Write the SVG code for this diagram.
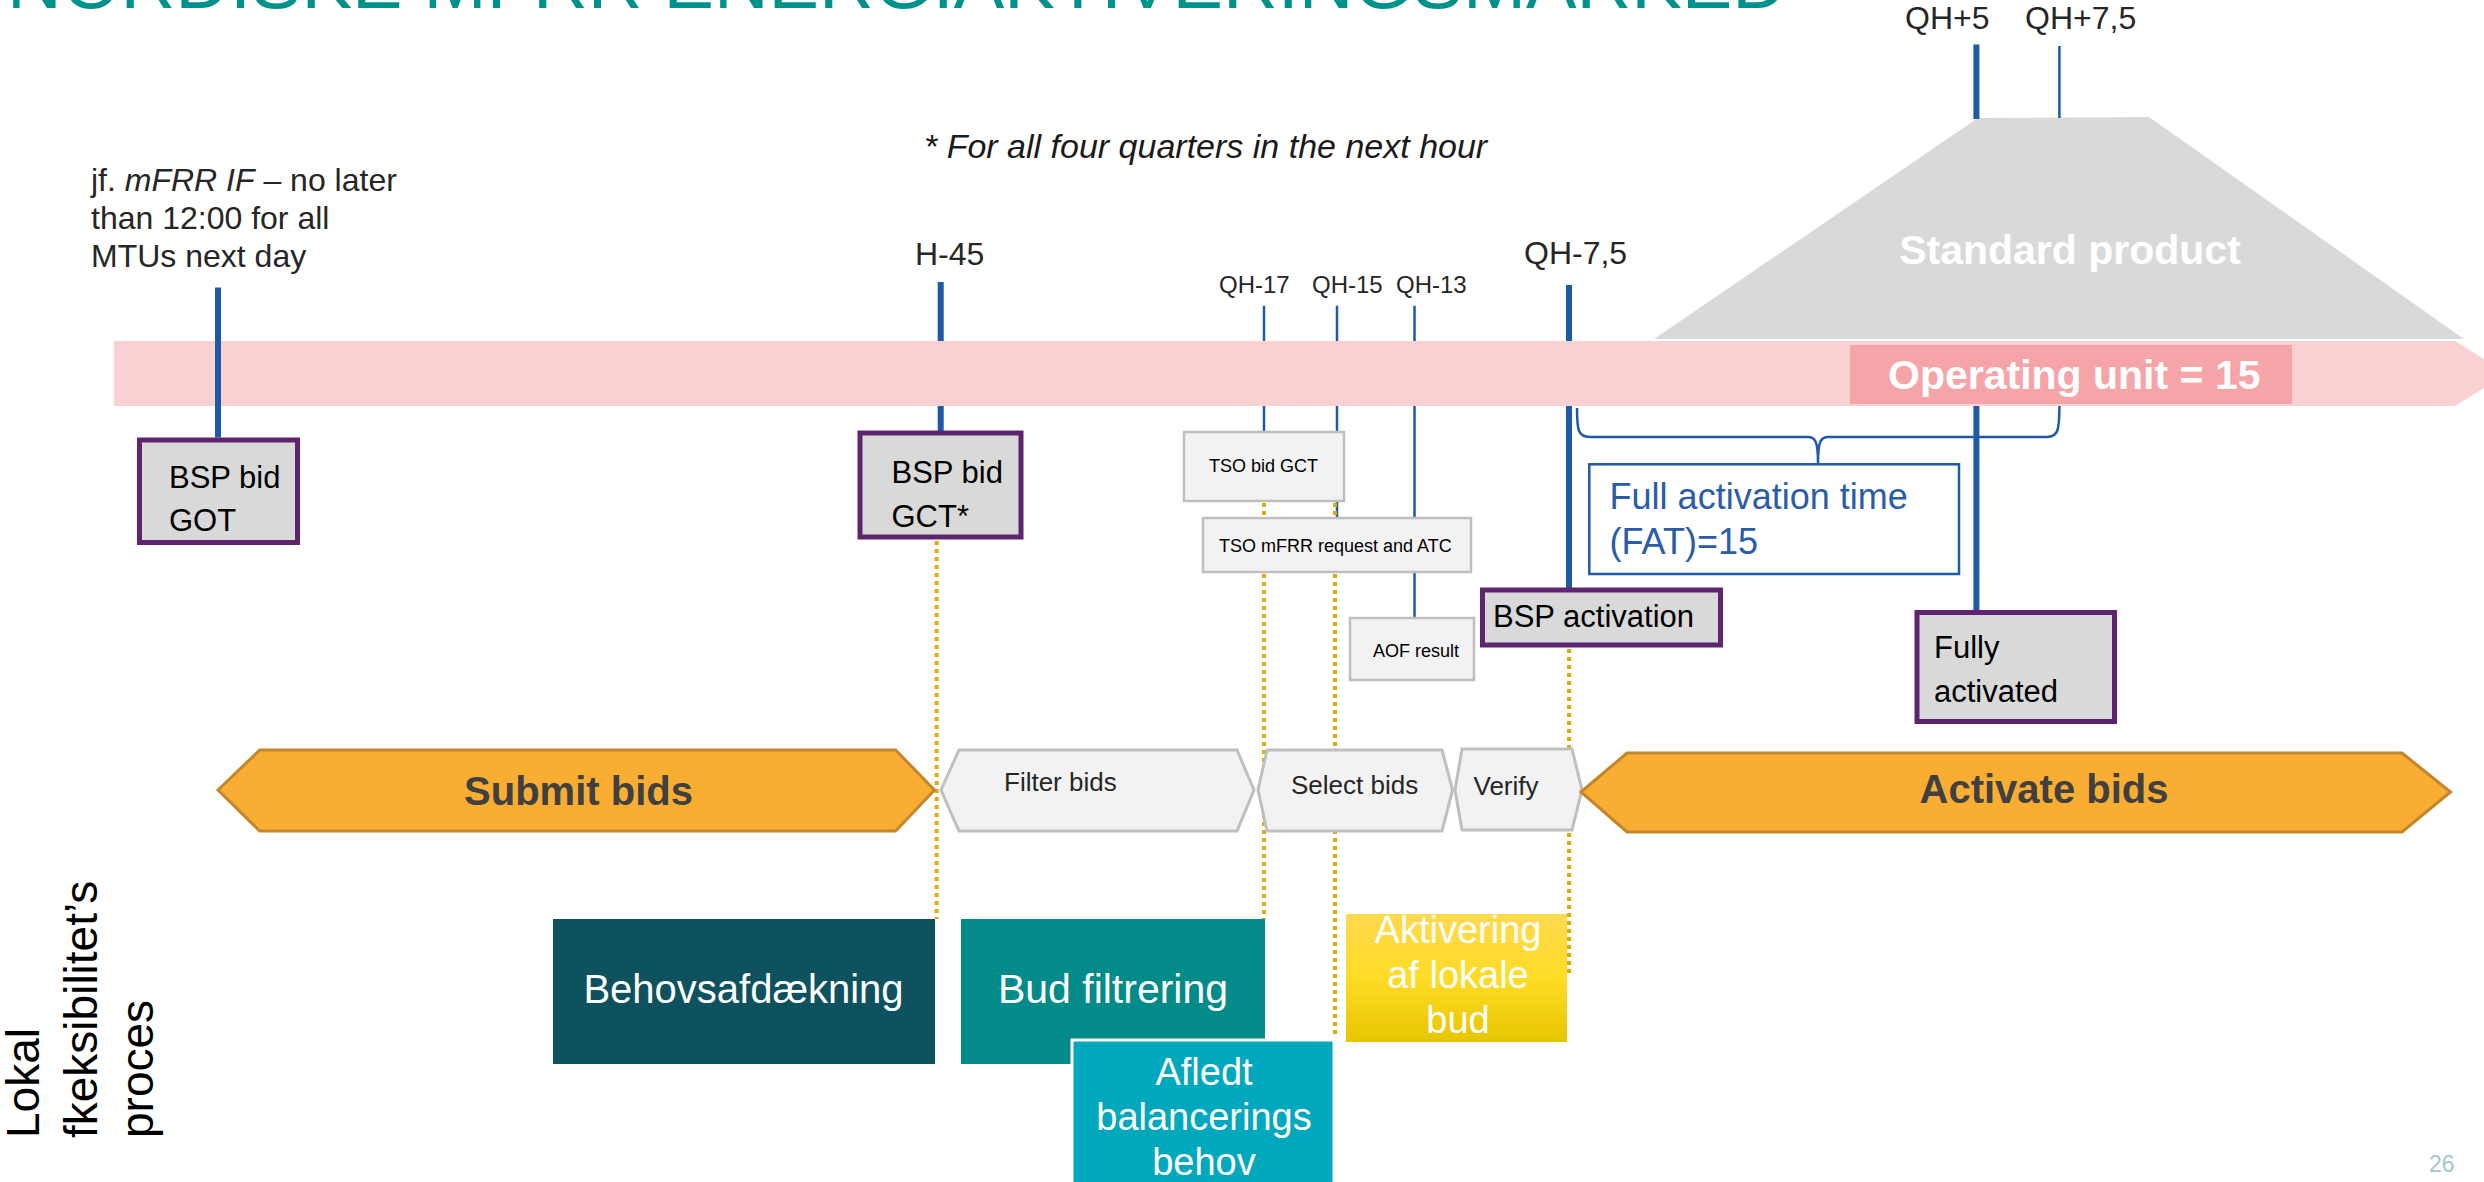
<svg xmlns="http://www.w3.org/2000/svg" width="2484" height="1182" viewBox="0 0 2484 1182">
<defs>
<linearGradient id="gy" x1="0" y1="0" x2="0" y2="1">
<stop offset="0" stop-color="#FFD94E"/><stop offset="0.5" stop-color="#FFDC25"/><stop offset="1" stop-color="#E6C500"/>
</linearGradient>
</defs>
<style>
text{font-family:"Liberation Sans",Arial,sans-serif}
.lbl{font-size:32px;fill:#262626}
.qh{font-size:24px;fill:#262626}
.thick{stroke:#1F5AA6;stroke-width:6;fill:none}
.thin{stroke:#1F5AA6;stroke-width:2.5;fill:none}
.dot{stroke:#DDAA0A;stroke-width:4;stroke-dasharray:4 4;fill:none}
.brace{stroke:#1F5AA6;stroke-width:2.5;fill:none}
.bsp{fill:#D9D9D9;stroke:#5F246E;stroke-width:5}
.bsptx{font-size:31px;fill:#000}
.tso{fill:#F2F2F2;stroke:#BFBFBF;stroke-width:2.5}
.tsotx{font-size:18px;fill:#000}
.step{fill:#F2F2F2;stroke:#BFBFBF;stroke-width:3}
.steptx{font-size:26px;fill:#262626}
.org{fill:#F9AE33;stroke:#C4862A;stroke-width:3}
.orgtx{font-size:40px;font-weight:bold;fill:#404040;text-anchor:middle}
.wtx{fill:#FFFFFF;text-anchor:middle}
</style>
<rect width="2484" height="1182" fill="#FFFFFF"/>

<g id="title">
<text x="7" y="8" font-size="76" fill="#00918A" textLength="1780" lengthAdjust="spacingAndGlyphs">NORDISKE MFRR ENERGIAKTIVERINGSMARKED</text>
</g>
<g id="note">
<text x="924" y="158" font-size="34" font-style="italic" fill="#1A1A1A">* For all four quarters in the next hour</text>
</g>
<g id="note-jf">
<text class="lbl" x="91" y="191">jf. <tspan font-style="italic">mFRR IF</tspan> – no later</text>
<text class="lbl" x="91" y="229">than 12:00 for all</text>
<text class="lbl" x="91" y="267">MTUs next day</text>
</g>
<g id="time-labels">
<text class="lbl" x="915" y="265">H-45</text>
<text class="lbl" x="1524" y="264">QH-7,5</text>
<text class="lbl" x="1905" y="29">QH+5</text>
<text class="lbl" x="2025" y="29">QH+7,5</text>
<text class="qh" x="1219" y="293">QH-17</text>
<text class="qh" x="1312" y="293">QH-15</text>
<text class="qh" x="1396" y="293">QH-13</text>
</g>

<g id="timeline">
<path d="M114,341 H2455 L2507,373.5 L2455,406 H114 Z" fill="#F9D1D3"/>
<rect x="1850" y="345" width="442" height="59" fill="#F5A4A7"/>
<text x="1888" y="389" font-size="41" font-weight="bold" fill="#FFFFFF">Operating unit = 15</text>
</g>
<g id="standard-product">
<path d="M1978,118 L2149,117 L2464,339 L1654,339 Z" fill="#D9D9D9"/>
<text class="wtx" x="2070" y="264" font-size="41" font-weight="bold">Standard product</text>
</g>

<g id="connectors">
<path class="thick" d="M218,287.5 V437.5"/>
<path class="thick" d="M940.7,282 V341 M940.7,406 V433"/>
<path class="thick" d="M1569,285 V341 M1569,406 V590"/>
<path class="thick" d="M1976.4,44.6 V119 M1976.4,406 V612"/>
<path class="thin" d="M1264,305.7 V341 M1264,406 V432"/>
<path class="thin" d="M1337,305.7 V341 M1337,406 V432 M1337,501 V518"/>
<path class="thin" d="M1414.5,305.7 V341 M1414.5,406 V618"/>
<path class="thin" d="M2059.4,46 V118"/>
<path class="dot" d="M936.7,541 V919"/>
<path class="dot" d="M1264,503 V518 M1264,574 V919"/>
<path class="dot" d="M1335,503 V518 M1335,574 V1037"/>
<path class="dot" d="M1569,649 V977"/>
<path class="brace" d="M1577,408 C1577,430 1578,437 1590,437 L1808,437 C1815,437 1818,441 1818,463 C1818,441 1821,437 1828,437 L2047,437 C2058,437 2059.4,430 2059.4,406"/>
</g>

<g id="bsp-bid-got">
<rect class="bsp" x="139.5" y="440" width="158" height="102.5"/>
<text class="bsptx" x="169" y="487.5">BSP bid</text>
<text class="bsptx" x="169" y="531">GOT</text>
</g>
<g id="bsp-bid-gct">
<rect class="bsp" x="860" y="433" width="161" height="104"/>
<text class="bsptx" x="891.5" y="483.3">BSP bid</text>
<text class="bsptx" x="891.5" y="526.7">GCT*</text>
</g>
<g id="tso-bid-gct">
<rect class="tso" x="1184" y="432" width="160" height="69"/>
<text class="tsotx" x="1209" y="472">TSO bid GCT</text>
</g>
<g id="tso-mfrr">
<rect class="tso" x="1203" y="518" width="268" height="54"/>
<text class="tsotx" x="1219" y="552">TSO mFRR request and ATC</text>
</g>
<g id="aof-result">
<rect class="tso" x="1350" y="618" width="124" height="62"/>
<text class="tsotx" x="1373" y="657">AOF result</text>
</g>
<g id="bsp-activation">
<rect class="bsp" x="1482.5" y="590" width="238" height="55"/>
<text class="bsptx" x="1493" y="627">BSP activation</text>
</g>
<g id="fat">
<rect x="1589.3" y="464.3" width="369.7" height="109.7" fill="#FFFFFF" stroke="#1F5AA6" stroke-width="2.5"/>
<text x="1609.6" y="509.3" font-size="36" fill="#2A5CA8">Full activation time</text>
<text x="1609.6" y="554" font-size="36" fill="#2A5CA8">(FAT)=15</text>
</g>
<g id="fully-activated">
<rect class="bsp" x="1917" y="612.5" width="197.5" height="109"/>
<text class="bsptx" x="1934" y="658">Fully</text>
<text class="bsptx" x="1934" y="702">activated</text>
</g>

<g id="submit-bids">
<path class="org" d="M218,790 L259.7,750 H895.6 L934.5,790 L895.6,831 H259.7 Z"/>
<text class="orgtx" x="578.5" y="805">Submit bids</text>
</g>
<g id="filter-bids">
<path class="step" d="M941,790 L959,750 H1237 L1254,790 L1237,831 H959 Z"/>
<text class="steptx" x="1004" y="791">Filter bids</text>
</g>
<g id="select-bids">
<path class="step" d="M1258,790 L1267,750 H1442 L1452.6,790 L1442,831 H1267 Z"/>
<text class="steptx" x="1291" y="794">Select bids</text>
</g>
<g id="verify">
<path class="step" d="M1455,790 L1462,749 H1572 L1582,790 L1572,830 H1462 Z"/>
<text class="steptx" x="1473.5" y="795">Verify</text>
</g>
<g id="activate-bids">
<path class="org" d="M1581,792 L1627,753 H2402 L2450.5,792 L2402,832 H1627 Z"/>
<text class="orgtx" x="2044" y="803">Activate bids</text>
</g>

<g id="behovsafdaekning">
<rect x="553" y="919" width="382" height="145" fill="#0E5260"/>
<text class="wtx" x="743.5" y="1003" font-size="40">Behovsafdækning</text>
</g>
<g id="bud-filtrering">
<rect x="961" y="919" width="304" height="145" fill="#028B88"/>
<text class="wtx" x="1113" y="1003" font-size="41">Bud filtrering</text>
</g>
<g id="afledt">
<rect x="1072" y="1040" width="262" height="150" fill="#00A8BE" stroke="#FFFFFF" stroke-width="3"/>
<text class="wtx" x="1204" y="1085" font-size="38">Afledt</text>
<text class="wtx" x="1204" y="1130" font-size="38">balancerings</text>
<text class="wtx" x="1204" y="1175" font-size="38">behov</text>
</g>
<g id="aktivering">
<rect x="1346" y="914" width="221" height="128" fill="url(#gy)"/>
<text class="wtx" x="1458" y="943" font-size="38">Aktivering</text>
<text class="wtx" x="1458" y="988" font-size="38">af lokale</text>
<text class="wtx" x="1458" y="1033" font-size="38">bud</text>
</g>

<g id="side-label">
<text transform="translate(39,1138) rotate(-90)" font-size="46" fill="#000">Lokal</text>
<text transform="translate(97,1138) rotate(-90)" font-size="46" fill="#000">fkeksibilitet’s</text>
<text transform="translate(153,1138) rotate(-90)" font-size="46" fill="#000">proces</text>
</g>
<g id="page-number">
<text x="2429" y="1172" font-size="23" fill="#A3C9CA">26</text>
</g>
</svg>
